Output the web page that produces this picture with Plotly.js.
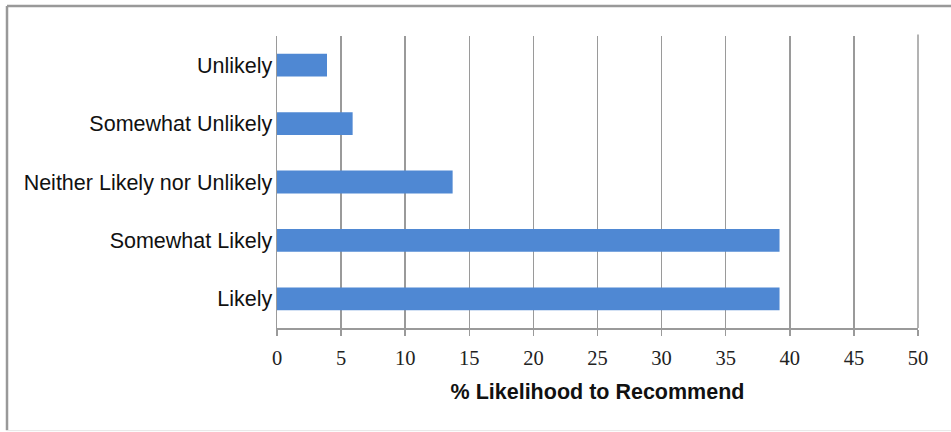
<!DOCTYPE html>
<html>
<head>
<meta charset="utf-8">
<script src="https://cdn.plot.ly/plotly-3.0.1.min.js"></script>
<style>
html, body { margin: 0; padding: 0; background: #fff; }
#chart { width: 951px; height: 432px; }
</style>
</head>
<body>
<div id="chart"></div>
<script>
const categories = ["Likely", "Somewhat Likely", "Neither Likely nor Unlikely", "Somewhat Unlikely", "Unlikely"];
const values = [39.2, 39.2, 13.7, 5.9, 3.9];
const xTicks = [0, 5, 10, 15, 20, 25, 30, 35, 40, 45, 50];
const xTitle = "% Likelihood to Recommend";

const trace = {
  type: "bar",
  orientation: "h",
  y: categories,
  x: values,
  marker: { color: "#4f88d3" },
  width: 0.39,
  hoverinfo: "x+y"
};

const layout = {
  width: 951,
  height: 432,
  margin: { l: 277, r: 33, t: 36, b: 104, pad: 0 },
  paper_bgcolor: "#ffffff",
  plot_bgcolor: "#ffffff",
  showlegend: false,
  xaxis: {
    range: [0, 50],
    tickvals: xTicks,
    ticktext: xTicks.map(String),
    showgrid: true,
    gridcolor: "#9a9a9a",
    gridwidth: 1.5,
    zeroline: false,
    showline: true,
    linecolor: "#9a9a9a",
    linewidth: 1.5,
    ticks: "outside",
    ticklen: 6,
    tickwidth: 1.5,
    tickcolor: "#9a9a9a",
    ticklabelstandoff: 5,
    tickfont: { family: "Liberation Serif, serif", size: 20.5, color: "#222" },
    title: { text: xTitle, font: { family: "Liberation Sans, Arial, sans-serif", size: 21.5, color: "#111", weight: "bold" }, standoff: 16 },
    fixedrange: true
  },
  yaxis: {
    type: "category",
    categoryorder: "array",
    categoryarray: categories,
    showgrid: false,
    zeroline: false,
    showline: true,
    linecolor: "#9a9a9a",
    linewidth: 1.5,
    ticks: "",
    ticklabelstandoff: -1,
    tickfont: { family: "Liberation Sans, Arial, sans-serif", size: 21.5, color: "#111" },
    fixedrange: true
  },
  shapes: [
    { type: "line", xref: "paper", yref: "paper", x0: -0.4212, x1: 1.1, y0: 1.1027, y1: 1.1027, line: { color: "#999", width: 2.5 } },
    { type: "line", xref: "paper", yref: "paper", x0: -0.4212, x1: -0.4212, y0: -0.35, y1: 1.1027, line: { color: "#999", width: 2.5 } },
    { type: "line", xref: "paper", yref: "paper", x0: -0.4212, x1: 1.1, y0: -0.3515, y1: -0.3515, line: { color: "#e6e6e6", width: 1 } },
    { type: "line", xref: "paper", yref: "paper", x0: 1, x1: 1, y0: 0, y1: 1.005, line: { color: "#9a9a9a", width: 1.5 } }
  ]
};

Plotly.newPlot("chart", [trace], layout, { displayModeBar: false, staticPlot: true });
</script>
</body>
</html>
